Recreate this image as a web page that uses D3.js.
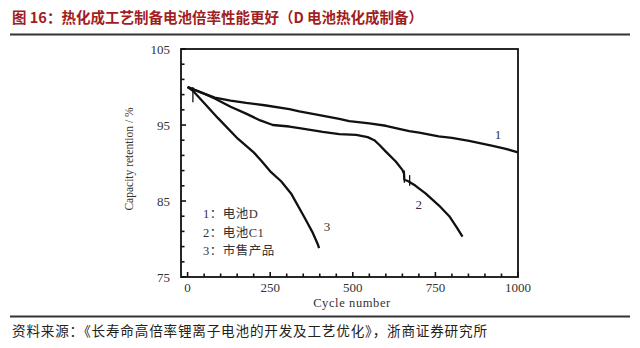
<!DOCTYPE html>
<html><head><meta charset="utf-8">
<script src="https://cdn.jsdelivr.net/npm/d3@7"></script>
<style>
html,body{margin:0;padding:0;background:#fff;}
svg{display:block;}
</style></head>
<body><svg id="c" width="640" height="348"></svg>
<script>
// ---- data ----
const titleText = "图 16：热化成工艺制备电池倍率性能更好（D 电池热化成制备）";
const sourceText = "资料来源：《长寿命高倍率锂离子电池的开发及工艺优化》，浙商证券研究所";
const xTickLabels = [0, 250, 500, 750, 1000];
const yTickLabels = [75, 85, 95, 105];
const legendLabels = ["1：电池D", "2：电池C1", "3：市售产品"];
const curveNames = ["1", "2", "3"];
// curve 1 : 电池D
const cycles1 = [0, 40, 82, 130, 177, 233, 308, 338, 399, 459, 489, 550, 600, 640, 671, 701, 760, 800, 852, 920, 960, 1000];
const ret1    = [100, 99.3, 98.6, 98.2, 97.9, 97.6, 97.1, 96.8, 96.3, 95.8, 95.5, 95.2, 94.9, 94.5, 94.2, 94.0, 93.5, 93.3, 92.9, 92.3, 91.9, 91.4];
// curve 2 : 电池C1
const cycles2 = [0, 40, 82, 130, 177, 220, 258, 308, 338, 409, 459, 510, 545, 565, 580, 600, 630, 650, 655, 656, 668, 690, 720, 761, 792, 815, 832];
const ret2    = [100, 99.3, 98.5, 97.4, 96.5, 95.6, 95.0, 94.8, 94.6, 94.1, 93.8, 93.7, 93.4, 93.0, 92.4, 91.5, 90.2, 89.1, 88.6, 87.8, 87.6, 87.0, 86.0, 84.4, 83.0, 81.5, 80.3];
// curve 3 : 市售产品
const cycles3 = [0, 16, 50, 92, 152, 200, 223, 250, 283, 313, 353, 379, 394, 398];
const ret3    = [100, 99.5, 97.9, 95.9, 93.2, 91.4, 90.3, 88.9, 87.6, 86.0, 82.9, 80.8, 79.3, 78.8];
// small vertical marks seen on the curves
const markX  = [16, 656, 672];
const markLo = [98.0, 87.4, 87.0];
const markHi = [100, 89.0, 88.4];

// ---- drawing ----
const svg = d3.select("#c");
const L = 181, R = 518, T = 49, B = 277;
const x = d3.scaleLinear().domain([-20, 1000]).range([L, R]);
const y = d3.scaleLinear().domain([75, 105]).range([B, T]);
const serif = "'Liberation Serif','Times New Roman','Noto Sans CJK SC',serif";
const cjk = "'Noto Sans CJK SC','Noto Sans',sans-serif";

// title
svg.append("text").attr("x", 12).attr("y", 23)
  .attr("font-family", cjk).attr("font-weight", "bold").attr("font-size", 14.5)
  .attr("fill", "#a11d22").text(titleText);
svg.append("line").attr("x1", 10).attr("x2", 630).attr("y1", 34.5).attr("y2", 34.5)
  .attr("stroke", "#333").attr("stroke-width", 2);

// bottom
svg.append("line").attr("x1", 10).attr("x2", 630).attr("y1", 316.5).attr("y2", 316.5)
  .attr("stroke", "#333").attr("stroke-width", 2);
svg.append("text").attr("x", 12).attr("y", 336)
  .attr("font-family", cjk).attr("font-size", 13.6).attr("letter-spacing", 0.8)
  .attr("fill", "#222").text(sourceText);

// frame
svg.append("rect").attr("x", L).attr("y", T).attr("width", R - L).attr("height", B - T)
  .attr("fill", "none").attr("stroke", "#111").attr("stroke-width", 1.8);

// y ticks (inward)
const yTicks = d3.range(75, 105.01, 2);
svg.append("g").selectAll("line").data(yTicks).join("line")
  .attr("x1", L).attr("x2", d => L + (yTickLabels.includes(d) ? 5 : 3.5))
  .attr("y1", d => y(d)).attr("y2", d => y(d))
  .attr("stroke", "#111").attr("stroke-width", 1.6);
svg.append("g").selectAll("text").data(yTickLabels).join("text")
  .attr("x", 170).attr("y", d => y(d)).attr("dy", "0.35em")
  .attr("text-anchor", "end").attr("font-family", serif).attr("font-size", 13)
  .attr("fill", "#333").text(d => d);

// x ticks (inward)
const xTicks = d3.range(0, 1000.01, 50);
svg.append("g").selectAll("line").data(xTicks).join("line")
  .attr("x1", d => x(d)).attr("x2", d => x(d))
  .attr("y1", B).attr("y2", d => B - (xTickLabels.includes(d) ? 5 : 3.5))
  .attr("stroke", "#111").attr("stroke-width", 1.6);
svg.append("g").selectAll("text").data(xTickLabels).join("text")
  .attr("x", d => x(d)).attr("y", 292)
  .attr("text-anchor", "middle").attr("font-family", serif).attr("font-size", 13)
  .attr("fill", "#333").text(d => d);

// axis titles
svg.append("text").attr("x", 352).attr("y", 307)
  .attr("text-anchor", "middle").attr("font-family", serif).attr("font-size", 12.5)
  .attr("letter-spacing", 0.6).attr("fill", "#333").text("Cycle number");
svg.append("text").attr("transform", "translate(133,159) rotate(-90)")
  .attr("text-anchor", "middle").attr("font-family", serif).attr("font-size", 11.5)
  .attr("fill", "#333").text("Capacity retention / %");

// curves
const line = d3.line().x(d => x(d[0])).y(d => y(d[1])).curve(d3.curveLinear);
const series = [
  d3.zip(cycles1, ret1),
  d3.zip(cycles2, ret2),
  d3.zip(cycles3, ret3)
];
svg.append("g").selectAll("path").data(series).join("path")
  .attr("d", line).attr("fill", "none").attr("stroke", "#111")
  .attr("stroke-width", 2.3).attr("stroke-linejoin", "round");

// small vertical marks
svg.append("g").selectAll("line").data(markX.map((d, i) => i)).join("line")
  .attr("x1", i => x(markX[i])).attr("x2", i => x(markX[i]))
  .attr("y1", i => y(markHi[i])).attr("y2", i => y(markLo[i]))
  .attr("stroke", "#111").attr("stroke-width", 1.3);

// curve labels
const labelAt = [[930, 93.7], [690, 84.5], [412, 81.7]];
svg.append("g").selectAll("text").data(curveNames).join("text")
  .attr("x", (d, i) => x(labelAt[i][0])).attr("y", (d, i) => y(labelAt[i][1]))
  .attr("dy", "0.35em").attr("font-family", serif).attr("font-size", 13)
  .attr("fill", "#333").text(d => d);

// legend
svg.append("g").selectAll("text").data(legendLabels).join("text")
  .attr("x", 203).attr("y", (d, i) => 214 + i * 18.3).attr("dy", "0.35em")
  .attr("font-family", serif).attr("font-size", 12.5).attr("letter-spacing", 0.5)
  .attr("fill", "#333").text(d => d);
</script>
</body></html>
